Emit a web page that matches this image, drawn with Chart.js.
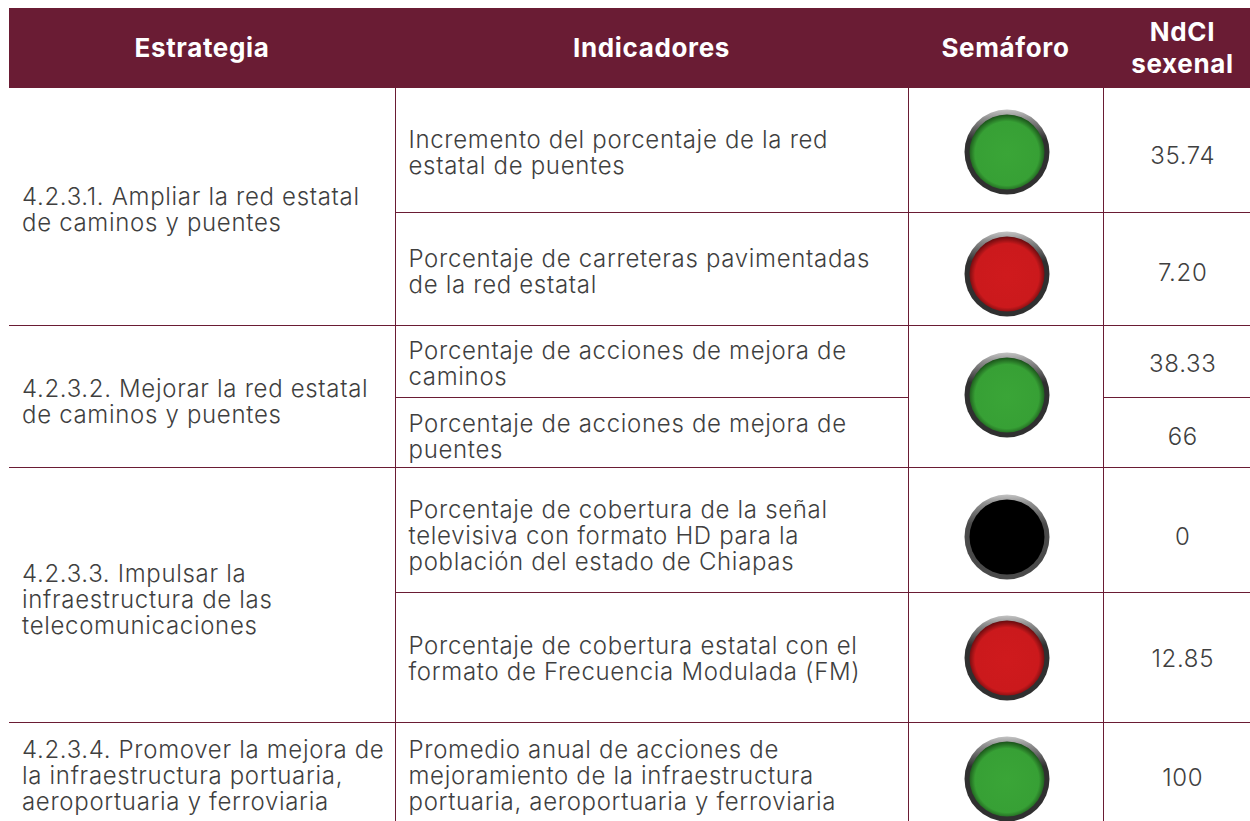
<!DOCTYPE html>
<html lang="es">
<head>
<meta charset="utf-8">
<title>Semáforo</title>
<script src="https://cdn.jsdelivr.net/npm/chart.js@4/dist/chart.umd.min.js"></script>
<style>
  html, body { margin: 0; padding: 0; background: #fff; overflow: hidden; width: 1250px; height: 821px; }
  #tabla { position: absolute; left: 9px; top: 8px; width: 1241px; border-collapse: collapse; table-layout: fixed;
           font-family: Inter, "Open Sans", sans-serif; font-size: 24px; font-weight: 300; letter-spacing: 0.68px; line-height: 26px; color: #3f3f3f; }
  #tabla th { background: #6a1c34; color: #fff; font-size: 26px; line-height: 32px; font-weight: 700; height: 79px; padding: 0; letter-spacing: 0.65px; }
  #tabla th:last-child { padding-left: 12px; }
  #tabla td { border: 1px solid #6a1c34; padding: 5px 0 0 13px; vertical-align: middle; box-sizing: border-box; white-space: pre-line; }
  #tabla td:first-child { border-left: none; }
  #tabla td:last-child { border-right: none; text-align: center; padding-left: 12px; }
  #tabla tr:last-child td { border-bottom: none; }
  #tabla td span { position: relative; }
  .luz { position: absolute; left: 957px; width: 100px; height: 100px; }
</style>
</head>
<body>
<table id="tabla">
  <colgroup><col style="width:386px"><col style="width:513px"><col style="width:195px"><col style="width:147px"></colgroup>
  <thead><tr><th>Estrategia</th><th>Indicadores</th><th>Semáforo</th><th>NdCI<br>sexenal</th></tr></thead>
  <tbody id="cuerpo"></tbody>
</table>
<script>
// datos
const estrategias = [
  '4.2.3.1. Ampliar la red estatal\nde caminos y puentes',
  '4.2.3.2. Mejorar la red estatal\nde caminos y puentes',
  '4.2.3.3. Impulsar la\ninfraestructura de las\ntelecomunicaciones',
  '4.2.3.4. Promover la mejora de\nla infraestructura portuaria,\naeroportuaria y ferroviaria'
];
const filasPorEstrategia = [2, 2, 2, 1];
const indicadores = [
  'Incremento del porcentaje de la red\nestatal de puentes',
  'Porcentaje de carreteras pavimentadas\nde la red estatal',
  'Porcentaje de acciones de mejora de\ncaminos',
  'Porcentaje de acciones de mejora de\npuentes',
  'Porcentaje de cobertura de la señal\ntelevisiva con formato HD para la\npoblación del estado de Chiapas',
  'Porcentaje de cobertura estatal con el\nformato de Frecuencia Modulada (FM)',
  'Promedio anual de acciones de\nmejoramiento de la infraestructura\nportuaria, aeroportuaria y ferroviaria'
];
const ndci = ['35.74', '7.20', '38.33', '66', '0', '12.85', '100'];
// un semaforo por fila, salvo el tercero que cubre dos filas
const semaforo = ['verde', 'rojo', 'verde', 'negro', 'rojo', 'verde'];
const filasPorSemaforo = [1, 1, 2, 1, 1, 1];

const altoFila = [125, 113, 72, 70, 125, 130, 99];
// centro, cerca del borde, sombra del borde, aro oscuro
const colores = {
  verde: ['#3aa537', '#37a035', '#1a5019', '#303030'],
  rojo: ['#cf1a1d', '#cb191c', '#640b0e', '#303030'],
  negro: ['#000000', '#000000', '#000000', '#4a4a4a']
};

// pequenos ajustes verticales del texto, en px
const ajusteEstrategia = [1, 3, 2, 1];
const ajusteIndicador = [0, 0, 0, 2, 3, -1, 1];
const ajusteValor = [3, 1, 0, 2, 4, -1, 3];

function celda(texto, ajuste) {
  const td = document.createElement('td');
  const span = document.createElement('span');
  span.textContent = texto;
  span.style.top = ajuste + 'px';
  td.appendChild(span);
  return td;
}

// Paso 1: armar la tabla
const cuerpo = document.getElementById('cuerpo');
let indSem = 0, sigSem = 0, indEst = 0, sigEst = 0;
indicadores.forEach(function(texto, i) {
  const tr = document.createElement('tr');
  tr.style.height = altoFila[i] + 'px';
  if (i === sigEst) {
    const td = celda(estrategias[indEst], ajusteEstrategia[indEst]);
    td.rowSpan = filasPorEstrategia[indEst];
    tr.appendChild(td);
    sigEst += filasPorEstrategia[indEst];
    indEst++;
  }
  tr.appendChild(celda(texto, ajusteIndicador[i]));
  if (i === sigSem) {
    const td = document.createElement('td');
    td.rowSpan = filasPorSemaforo[indSem];
    tr.appendChild(td);
    sigSem += filasPorSemaforo[indSem];
    indSem++;
  }
  tr.appendChild(celda(ndci[i], ajusteValor[i]));
  cuerpo.appendChild(tr);
});

// Paso 2: un grafico por semaforo, con un solo punto
const arribaLuz = [102, 224, 345, 487, 608, 729];

function puntoEn(ctx) {
  const s = ctx.chart.scales;
  return { x: s.x.getPixelForValue(0), y: s.y.getPixelForValue(0) };
}

semaforo.forEach(function(estado, i) {
  const canvas = document.createElement('canvas');
  canvas.className = 'luz';
  canvas.width = 100;
  canvas.height = 100;
  canvas.style.top = arribaLuz[i] + 'px';
  document.body.appendChild(canvas);
  const col = colores[estado];

  new Chart(canvas.getContext('2d'), {
    type: 'scatter',
    data: {
      datasets: [
        {
          // el primer dataset se dibuja encima
          label: estado,
          data: [{ x: 'Semáforo', y: estado }],
          pointRadius: 37.5,
          borderWidth: 0,
          backgroundColor: function(ctx) {
            const p = puntoEn(ctx);
            if (!isFinite(p.y) || !isFinite(p.x)) return col[0];
            const g = ctx.chart.ctx.createRadialGradient(p.x, p.y + 1.5, 0, p.x, p.y + 1.5, 39);
            g.addColorStop(0, col[0]);
            g.addColorStop(0.82, col[1]);
            g.addColorStop(1, col[2]);
            return g;
          }
        },
        {
          label: 'aro',
          data: [{ x: 'Semáforo', y: estado }],
          pointRadius: 42.5,
          borderWidth: 0,
          backgroundColor: function(ctx) {
            const p = puntoEn(ctx);
            // las escalas todavia no tienen tamano en el primer reset
            if (!isFinite(p.y)) return col[3];
            const g = ctx.chart.ctx.createLinearGradient(0, p.y - 42, 0, p.y + 42);
            g.addColorStop(0, '#c0c0c0');
            g.addColorStop(0.1, '#8f8f8f');
            g.addColorStop(0.35, col[3]);
            g.addColorStop(1, col[3]);
            return g;
          }
        }
      ]
    },
    options: {
      responsive: false,
      animation: false,
      events: [],
      layout: { padding: 0 },
      plugins: { legend: { display: false }, tooltip: { enabled: false } },
      scales: {
        x: { type: 'category', labels: ['Semáforo'], offset: true, display: false },
        y: { type: 'category', labels: [estado], offset: true, display: false }
      }
    }
  });
});
</script>
</body>
</html>
